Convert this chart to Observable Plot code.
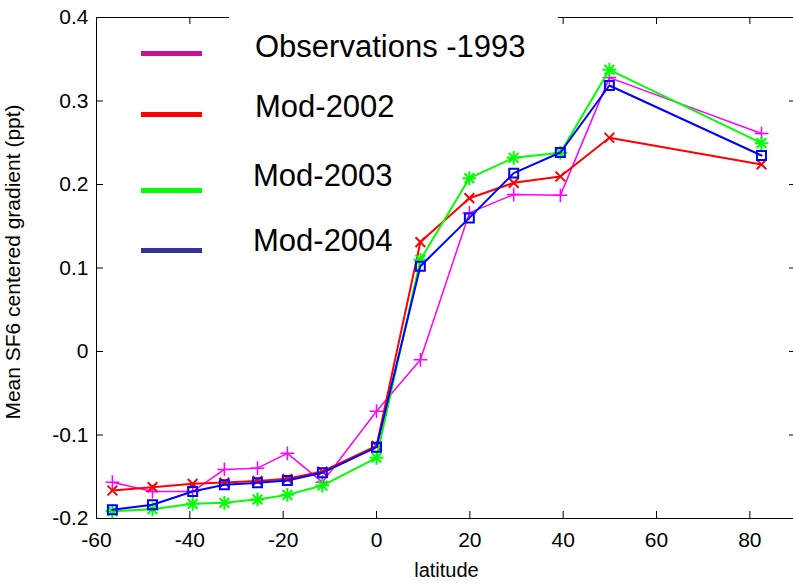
<!DOCTYPE html>
<html><head><meta charset="utf-8">
<script src="https://cdn.jsdelivr.net/npm/d3@7"></script>
<script src="https://cdn.jsdelivr.net/npm/@observablehq/plot@0.6"></script>
<style>
html,body{margin:0;padding:0;background:#fff;overflow:hidden;}
#wrap{position:relative;width:793px;height:584px;font-family:"Liberation Sans",Arial,sans-serif;}
.cover{position:absolute;background:#fff;}
.lg-line{position:absolute;height:5px;}
.lg-text{position:absolute;font-size:31px;line-height:1;color:#000;white-space:nowrap;transform:translateY(-50%);}
</style></head><body><div id="wrap"></div><script>
// Data
const lat = [-56.6, -48.0, -39.4, -32.6, -25.5, -19.1, -11.6, 0, 9.4, 19.9, 29.4, 39.4, 49.9, 82.5];
const obs1993 = [-0.1565, -0.1677, -0.1677, -0.1413, -0.1397, -0.122, -0.1565, -0.0715, -0.010, 0.166, 0.188, 0.187, 0.328, 0.261];
const mod2002 = [-0.1665, -0.1625, -0.1585, -0.157, -0.155, -0.1525, -0.1437, -0.113, 0.131, 0.1836, 0.202, 0.2096, 0.256, 0.224];
const mod2003 = [-0.1912, -0.1888, -0.1824, -0.1812, -0.1772, -0.1717, -0.1605, -0.1273, 0.1098, 0.2076, 0.232, 0.238, 0.3373, 0.2495];
const mod2004 = [-0.1896, -0.1836, -0.1677, -0.1597, -0.1573, -0.1545, -0.1453, -0.1146, 0.1022, 0.160, 0.2136, 0.2383, 0.3186, 0.2347];
const seriesNames = ["Observations -1993", "Mod-2002", "Mod-2003", "Mod-2004"];
const xTicks = [-60, -40, -20, 0, 20, 40, 60, 80];
const yTicks = [-0.2, -0.1, 0, 0.1, 0.2, 0.3, 0.4];
const yTickLabels = ["-0.2", "-0.1", "0", "0.1", "0.2", "0.3", "0.4"];
const xLabel = "latitude";
const yLabel = "Mean SF6 centered gradient (ppt)";

const lineColors = ["#ff00ff", "#ff0000", "#00ff00", "#0000ff"];
const legendColors = ["#cc1199", "#ff0000", "#00ff00", "#333399"];

const allSeries = [obs1993, mod2002, mod2003, mod2004].map((vals, i) =>
  lat.map((x, j) => ({series: seriesNames[i], lat: x, value: vals[j]})));

const W = 793, H = 584, mL = 96, mR = -3, mT = 17, mB = 66;
const plotW = W - mR - mL, plotH = H - mT - mB;
const tickLen = 7;

const marks = [
  Plot.frame({stroke: "#000"}),
  Plot.tickX(xTicks, {x: d => d, insetTop: plotH - tickLen, stroke: "#000"}),
  Plot.tickX(xTicks, {x: d => d, insetBottom: plotH - tickLen, stroke: "#000"}),
  Plot.tickY(yTicks, {y: d => d, insetRight: plotW - tickLen, stroke: "#000"}),
  Plot.tickY(yTicks, {y: d => d, insetLeft: plotW - tickLen, stroke: "#000"}),
  Plot.axisX(xTicks, {tickSize: 0, tickPadding: 14, fontSize: 21, label: null, tickFormat: d => String(d)}),
  Plot.axisY(yTicks, {tickSize: 0, tickPadding: 8, fontSize: 21, label: null, tickFormat: d => yTickLabels[yTicks.indexOf(d)]}),
  Plot.text([xLabel], {frameAnchor: "bottom", dy: 58, fontSize: 20, fill: "#000"}),
  Plot.text([yLabel], {frameAnchor: "left", textAnchor: "middle", dx: -83, dy: -6, rotate: -90, fontSize: 21, fill: "#000"})
];

const widths = [1.5, 2, 2, 2];
allSeries.forEach((rows, i) => {
  marks.push(Plot.line(rows, {x: "lat", y: "value", stroke: lineColors[i], strokeWidth: widths[i]}));
  if (i === 0) {
    marks.push(Plot.dot(rows, {x: "lat", y: "value", symbol: "plus", r: 4.5, stroke: lineColors[i], fill: "none", strokeWidth: 1.5}));
  } else if (i === 1) {
    marks.push(Plot.dot(rows, {x: "lat", y: "value", symbol: "times", r: 4.5, stroke: lineColors[i], fill: "none", strokeWidth: 2}));
  } else if (i === 2) {
    marks.push(Plot.dot(rows, {x: "lat", y: "value", symbol: "plus", r: 4.5, stroke: lineColors[i], fill: "none", strokeWidth: 2}));
    marks.push(Plot.dot(rows, {x: "lat", y: "value", symbol: "times", r: 4.5, stroke: lineColors[i], fill: "none", strokeWidth: 2}));
  } else {
    marks.push(Plot.dot(rows, {x: "lat", y: "value", symbol: "square2", r: 5.7, stroke: lineColors[i], fill: "none", strokeWidth: 2}));
  }
});

const chart = Plot.plot({
  width: W, height: H,
  marginLeft: mL, marginRight: mR, marginTop: mT, marginBottom: mB,
  style: {fontFamily: "Liberation Sans, Arial, sans-serif", color: "#000", background: "#fff"},
  x: {domain: [-60, 90], axis: null},
  y: {domain: [-0.2, 0.4], axis: null},
  marks
});
const wrap = document.getElementById("wrap");
wrap.appendChild(chart);

// Key (opaque box over the top border, line samples and labels)
const cover = document.createElement("div");
cover.className = "cover";
Object.assign(cover.style, {left: "229px", top: "0px", width: "329px", height: "30px"});
wrap.appendChild(cover);
const lineY = [53, 114, 190, 250];
const textY = [46, 106, 175, 240];
const textX = [255, 255, 253, 253];
seriesNames.forEach((name, i) => {
  const l = document.createElement("div");
  l.className = "lg-line";
  Object.assign(l.style, {left: "141px", width: "61px", top: (lineY[i] - 2.5) + "px", background: legendColors[i]});
  wrap.appendChild(l);
  const t = document.createElement("div");
  t.className = "lg-text";
  t.textContent = name;
  Object.assign(t.style, {left: textX[i] + "px", top: textY[i] + "px"});
  wrap.appendChild(t);
});
</script></body></html>
